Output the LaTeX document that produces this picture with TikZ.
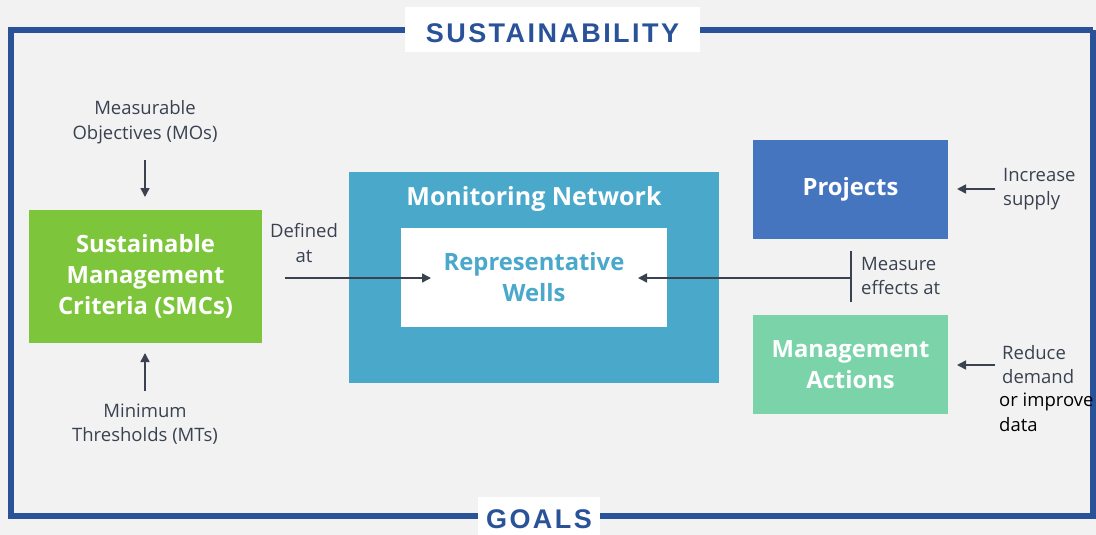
\documentclass[tikz,border=0pt]{standalone}
\usepackage{fontspec}
\setmainfont{Open Sans}
\newfontfamily\titlefont[LetterSpace=9]{Liberation Sans}
\usetikzlibrary{arrows.meta}
\definecolor{bgc}{HTML}{F2F2F2}
\definecolor{frameblue}{HTML}{2A5298}
\definecolor{smcgreen}{HTML}{7DC63B}
\definecolor{monblue}{HTML}{4AA8CB}
\definecolor{projblue}{HTML}{4675C0}
\definecolor{mgmtgreen}{HTML}{7BD3AA}
\definecolor{txtgray}{HTML}{3A4250}
\tikzset{
  box/.style={draw=none,inner sep=0pt,align=center,text=white,font=\fontsize{23.8}{31}\selectfont\bfseries},
  lbl/.style={inner sep=0pt,align=center,text=txtgray,font=\fontsize{18.5}{24.5}\selectfont},
  arr/.style={draw=txtgray,line width=1.6pt,-{Triangle[length=9pt,width=9pt]}},
  ln/.style={draw=txtgray,line width=1.6pt},
  ttl/.style={fill=white,inner sep=0pt,text=frameblue,font=\fontsize{27}{30}\selectfont\titlefont\bfseries}
}
\begin{document}
\begin{tikzpicture}[x=1pt,y=-1pt]
\useasboundingbox (0,0) rectangle (1096,535);
\fill[bgc] (0,0) rectangle (1096,535);
% frame
\draw[frameblue,line width=5.5pt] (1093,30) -- (11,30) -- (11,516) -- (1093,516) -- (1093,30);
\node[ttl,minimum width=295pt,minimum height=45pt] (sus) at (552.5,30) {};
\node[inner sep=0pt,text=frameblue,font=\fontsize{27}{30}\selectfont\titlefont\bfseries] (sust) at (552.5,33) {SUSTAINABILITY};
\node[ttl,minimum width=122pt,minimum height=40pt] (goals) at (539,517) {};
\node[inner sep=0pt,text=frameblue,font=\fontsize{27}{30}\selectfont\titlefont\bfseries] (goalst) at (539,519) {GOALS};
% SMC
\node[box,fill=smcgreen,minimum width=233pt,minimum height=133pt] (smc) at (145.5,276.5) {Sustainable\\Management\\Criteria (SMCs)};
\node[lbl] (mo) at (145,122) {Measurable\\Objectives (MOs)};
\node[lbl] (mt) at (145,424) {Minimum\\Thresholds (MTs)};
\coordinate (moa) at (145,160);
\coordinate (mta) at (145,391);
\draw[arr] (moa) -- (145,197);
\draw[arr] (mta) -- (145,353);
% Monitoring network
\node[box,fill=monblue,minimum width=370pt,minimum height=211pt] (mon) at (534,277.5) {};
\node[box,font=\fontsize{25}{30}\selectfont\bfseries] (montitle) at (534,199) {Monitoring Network};
\node[box,fill=white,text=monblue,minimum width=266pt,minimum height=99pt] (rw) at (534,277.5) {Representative\\Wells};
\node[lbl] (def) at (304,243) {Defined\\at};
\coordinate (defa) at (285,278);
\coordinate (defb) at (431,278);
\draw[arr] (defa) -- (defb);
% right side
\node[box,fill=projblue,minimum width=195pt,minimum height=99pt] (proj) at (850.5,189.5) {Projects};
\node[box,fill=mgmtgreen,minimum width=195pt,minimum height=99pt] (mgmt) at (850.5,364.5) {Management\\Actions};
\coordinate (vt) at (851,251);
\coordinate (vb) at (851,302);
\coordinate (vm) at (851,278);
\coordinate (rwa) at (638,278);
\draw[ln] (vt) -- (vb);
\draw[arr] (vm) -- (rwa);
\node[lbl,anchor=west,align=left] (mea) at (861,276) {Measure\\effects at};
\coordinate (isa) at (995,189);
\coordinate (isb) at (957,189);
\draw[arr] (isa) -- (isb);
\node[lbl,anchor=west,align=left] (inc) at (1003,189) {Increase\\supply};
\coordinate (rda) at (995,365);
\coordinate (rdb) at (957,365);
\draw[arr] (rda) -- (rdb);
\node[lbl,anchor=north west,align=left] (red) at (1002,345) {Reduce\\demand};
\node[lbl,anchor=north west,align=left,text=black] (imp) at (999,393) {or improve\\data};
\end{tikzpicture}
\end{document}
